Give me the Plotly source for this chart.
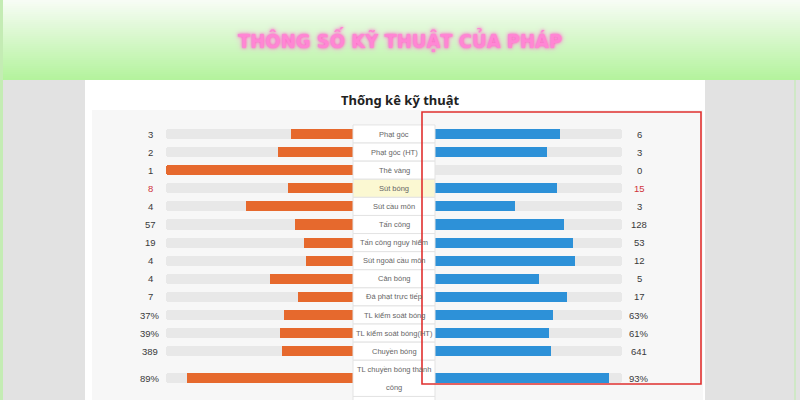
import plotly.graph_objects as go

# ---------------- data ----------------
categories = ["Phạt góc", "Phạt góc (HT)", "Thẻ vàng", "Sút bóng", "Sút cầu môn", "Tấn công",
              "Tấn công nguy hiểm", "Sút ngoài cầu môn", "Cản bóng", "Đá phạt trực tiếp",
              "TL kiểm soát bóng", "TL kiểm soát bóng(HT)", "Chuyền bóng",
              "TL chuyền bóng thành<br>công"]
home_values = [3, 2, 1, 8, 4, 57, 19, 4, 4, 7, 37, 39, 389, 89]
away_values = [6, 3, 0, 15, 3, 128, 53, 12, 5, 17, 63, 61, 641, 93]
value_units = ["", "", "", "", "", "", "", "", "", "", "%", "%", "", "%"]
highlight_category = "Sút bóng"
banner_title = "THÔNG SỐ KỸ THUẬT CỦA PHÁP"
panel_title = "Thống kê kỹ thuật"

# ---------------- helpers ----------------
W, H = 800, 400


def px(x):
    return x / W


def py(y):
    return 1 - y / H


def share(v, other, unit):
    if unit == "%":
        return v / 100.0
    tot = v + other
    return v / tot if tot else 0.0


home_share = [share(h, a, u) for h, a, u in zip(home_values, away_values, value_units)]
away_share = [share(a, h, u) for h, a, u in zip(home_values, away_values, value_units)]

# row layout (multi-line labels take more rows)
row_heights = [len(c.split("<br>")) for c in categories]
row_tops, ypos = [], []
acc = 0
for h in row_heights:
    row_tops.append(acc - 0.5)
    ypos.append(acc + h / 2 - 0.5)
    acc += h

ROW0, ROWH = 134.0, 18.1  # pixel centre of first row, pixel row pitch
yrange = [(H - ROW0) / ROWH, -ROW0 / ROWH]

ORANGE = "#e6692d"
BLUE = "#2d91d8"
TRACK = "#e8e8e8"
BAR_W = 0.56

fig = go.Figure()

# tracks + values, left (home)
fig.add_trace(go.Bar(y=ypos, x=[1] * len(ypos), orientation="h", xaxis="x", yaxis="y",
                     width=BAR_W, marker=dict(color=TRACK, cornerradius=3, line_width=0),
                     hoverinfo="skip", showlegend=False))
fig.add_trace(go.Bar(y=ypos, x=home_share, orientation="h", xaxis="x", yaxis="y",
                     width=BAR_W, marker=dict(color=ORANGE, cornerradius=3, line_width=0),
                     showlegend=False))
# tracks + values, right (away)
fig.add_trace(go.Bar(y=ypos, x=[1] * len(ypos), orientation="h", xaxis="x2", yaxis="y",
                     width=BAR_W, marker=dict(color=TRACK, cornerradius=3, line_width=0),
                     hoverinfo="skip", showlegend=False))
fig.add_trace(go.Bar(y=ypos, x=away_share, orientation="h", xaxis="x2", yaxis="y",
                     width=BAR_W, marker=dict(color=BLUE, cornerradius=3, line_width=0),
                     showlegend=False))

shapes = []
# banner gradient
top_c = (247, 252, 245)
bot_c = (180, 243, 157)
n = 40
for i in range(n):
    t = i / (n - 1)
    c = tuple(int(round(top_c[k] + (bot_c[k] - top_c[k]) * t)) for k in range(3))
    shapes.append(dict(type="rect", xref="paper", yref="paper", x0=0, x1=1,
                       y0=py(80 * (i + 1) / n + 0.5), y1=py(80 * i / n),
                       fillcolor="rgb(%d,%d,%d)" % c, line_width=0, layer="below"))
# grey sides
shapes.append(dict(type="rect", xref="paper", yref="paper", x0=0, x1=px(85), y0=0, y1=py(80),
                   fillcolor="#e2e2e2", line_width=0, layer="below"))
shapes.append(dict(type="rect", xref="paper", yref="paper", x0=px(705), x1=1, y0=0, y1=py(80),
                   fillcolor="#e2e2e2", line_width=0, layer="below"))
# thin green window edges
shapes.append(dict(type="rect", xref="paper", yref="paper", x0=0, x1=px(3), y0=0, y1=1,
                   fillcolor="#c4ecb4", line_width=0, layer="below"))
shapes.append(dict(type="rect", xref="paper", yref="paper", x0=px(794), x1=px(796), y0=0, y1=py(80),
                   fillcolor="#cfe8c6", line_width=0, layer="below"))
# white panel
shapes.append(dict(type="rect", xref="paper", yref="paper", x0=px(85), x1=px(705), y0=0, y1=py(80),
                   fillcolor="#ffffff", line_width=0, layer="below"))
# inner light area
shapes.append(dict(type="rect", xref="paper", yref="paper", x0=px(92), x1=px(703), y0=0, y1=py(110),
                   fillcolor="#f7f7f7", line_width=0, layer="below"))

# label cells
for cat, top, h in zip(categories, row_tops, row_heights):
    fill = "#fbf8d2" if cat == highlight_category else "#ffffff"
    shapes.append(dict(type="rect", xref="paper", yref="y", x0=px(353), x1=px(435),
                       y0=top, y1=top + h, fillcolor=fill,
                       line=dict(color="#e3e3e3", width=1), layer="above"))
# the (cut-off) next cell
shapes.append(dict(type="rect", xref="paper", yref="y", x0=px(353), x1=px(435),
                   y0=acc - 0.5, y1=acc + 2, fillcolor="#ffffff",
                   line=dict(color="#e3e3e3", width=1), layer="above"))

# red highlight frame
shapes.append(dict(type="rect", xref="paper", yref="paper", x0=px(422), x1=px(701),
                   y0=py(384), y1=py(112), fillcolor="rgba(0,0,0,0)",
                   line=dict(color="#e0302f", width=1.6), layer="above"))

annotations = []
annotations.append(dict(text="<b>%s</b>" % banner_title, xref="paper", yref="paper", x=0.5, y=py(40),
                        showarrow=False, xanchor="center", yanchor="middle",
                        font=dict(family="DejaVu Sans Condensed", size=20, color="#ff86d4",
                                  shadow="0px 0px 3px #ff4fc2, 0px 0px 6px #ff9ee0")))
annotations.append(dict(text="<b>%s</b>" % panel_title, xref="paper", yref="paper", x=0.5, y=py(100),
                        showarrow=False, xanchor="center", yanchor="middle",
                        font=dict(family="Noto Sans, Open Sans, sans-serif", size=13, color="#222222")))

for cat, top, y, h, a, u in zip(categories, row_tops, ypos, home_values, away_values, value_units):
    col = "#d0343c" if cat == highlight_category else "#3a3a3a"
    annotations.append(dict(text="%s%s" % (h, u), xref="paper", yref="y", x=px(150), y=y,
                            showarrow=False, xanchor="center", yanchor="middle",
                            font=dict(family="Liberation Sans, Arial, sans-serif", size=9.5, color=col)))
    annotations.append(dict(text="%s%s" % (a, u), xref="paper", yref="y", x=px(639), y=y,
                            showarrow=False, xanchor="center", yanchor="middle",
                            font=dict(family="Liberation Sans, Arial, sans-serif", size=9.5, color=col)))
    for k, line in enumerate(cat.split("<br>")):
        annotations.append(dict(text=line, xref="paper", yref="y", x=px(394), y=top + k + 0.5,
                                showarrow=False, xanchor="center", yanchor="middle",
                                font=dict(family="Liberation Sans, Arial, sans-serif", size=7.5,
                                          color="#666666")))

fig.update_layout(
    width=W, height=H,
    margin=dict(l=0, r=0, t=0, b=0),
    paper_bgcolor="#ffffff",
    plot_bgcolor="rgba(0,0,0,0)",
    barmode="overlay",
    bargap=0,
    showlegend=False,
    xaxis=dict(domain=[px(166), px(353)], range=[1, 0], visible=False, fixedrange=True),
    xaxis2=dict(domain=[px(435), px(622)], range=[0, 1], visible=False, anchor="y", fixedrange=True),
    yaxis=dict(domain=[0, 1], range=yrange, visible=False, fixedrange=True),
    shapes=shapes,
    annotations=annotations,
)

fig.write_html("out.html", config={"displayModeBar": False},
               post_script="document.body.style.margin='0';document.body.style.overflow='hidden';")
